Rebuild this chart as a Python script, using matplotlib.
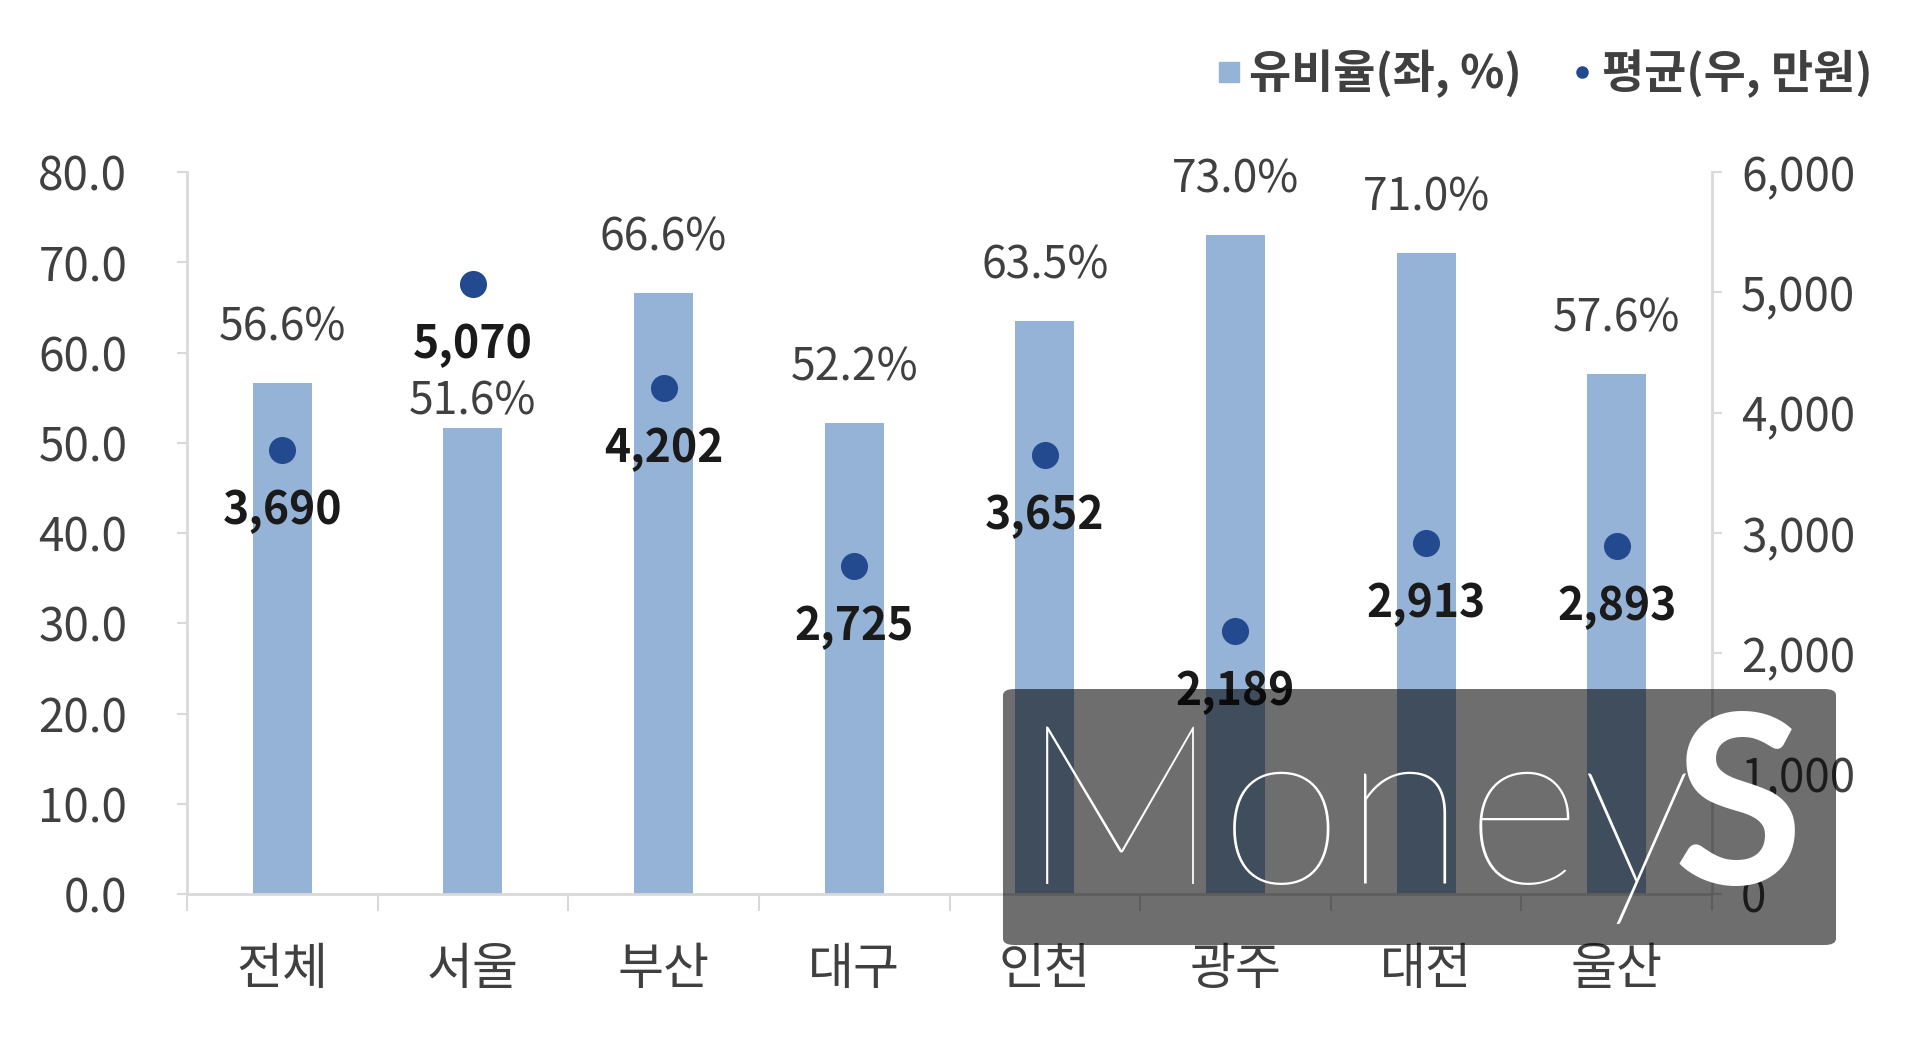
import matplotlib
matplotlib.use("Agg")
import matplotlib.pyplot as plt
from matplotlib.lines import Line2D
from matplotlib.patches import FancyBboxPatch
import numpy as np

plt.rcParams['font.family'] = ['Noto Sans CJK KR', 'DejaVu Sans']

categories = ['전체', '서울', '부산', '대구', '인천', '광주', '대전', '울산']
ratio = [56.6, 51.6, 66.6, 52.2, 63.5, 73.0, 71.0, 57.6]          # 유비율 (좌, %)
average = [3690, 5070, 4202, 2725, 3652, 2189, 2913, 2893]         # 평균 (우, 만원)
left_ticks = [0, 10, 20, 30, 40, 50, 60, 70, 80]
right_ticks = [0, 1000, 2000, 3000, 4000, 5000, 6000]
legend_labels = ['유비율(좌, %)', '평균(우, 만원)']

BAR = '#95B3D7'
DOT = '#234A8F'
AXC = '#D9D9D9'
TXT = '#404040'

W, H = 1920, 1039
fig = plt.figure(figsize=(W / 100, H / 100), dpi=100)
fig.patch.set_facecolor('white')
L, R, T, B = 187, 1712, 172, 894
ax = fig.add_axes([L / W, 1 - B / H, (R - L) / W, (B - T) / H])
ax2 = ax.twinx()

x = np.arange(len(categories))
ax.bar(x, ratio, width=0.31, color=BAR, zorder=2)
ax.set_xlim(-0.5, len(categories) - 0.5)
ax.set_ylim(0, 80)
ax2.set_ylim(0, 6000)

ax2.scatter(x, average, s=380, color=DOT, zorder=3, linewidths=0)

# spines
for a in (ax, ax2):
    for s in a.spines.values():
        s.set_visible(False)
ax.spines['left'].set_visible(True)
ax.spines['left'].set_color(AXC)
ax.spines['left'].set_linewidth(2)
ax.spines['bottom'].set_visible(True)
ax.spines['bottom'].set_color(AXC)
ax.spines['bottom'].set_linewidth(2)
ax2.spines['right'].set_visible(True)
ax2.spines['right'].set_color(AXC)
ax2.spines['right'].set_linewidth(2)

ax.set_yticks(left_ticks)
ax.set_yticklabels([f'{v:.1f}' for v in left_ticks])
ax.tick_params(axis='y', length=7, width=1.5, color=AXC, pad=36, labelsize=33, labelcolor=TXT)
ax2.set_yticks(right_ticks)
ax2.set_yticklabels([f'{v:,}' for v in right_ticks])
ax2.tick_params(axis='y', length=7, width=1.5, color=AXC, pad=14, labelsize=33, labelcolor=TXT)

ax.set_xticks(x)
ax.set_xticklabels(categories)
ax.tick_params(axis='x', length=0, pad=36, labelsize=36, labelcolor=TXT)
ax.set_xticks(np.arange(-0.5, len(categories)), minor=True)
ax.tick_params(axis='x', which='minor', length=12, width=1.5, color=AXC)

# labels
pct_offsets = [40, 19, 40, 40, 40, 40, 40, 40]
for xi, v, off in zip(x, ratio, pct_offsets):
    ax.annotate(f'{v:.1f}%', (xi, v), xytext=(0, off), textcoords='offset points',
                ha='center', va='center', fontsize=32, color=TXT, zorder=5)
for xi, v in zip(x, average):
    ax2.annotate(f'{v:,}', (xi, v), xytext=(0, -44), textcoords='offset points',
                 ha='center', va='center', fontsize=32, fontweight='bold', color='#1a1a1a', zorder=5)

# legend
handles = [Line2D([], [], marker='s', linestyle='none', markersize=14, color=BAR),
           Line2D([], [], marker='o', linestyle='none', markersize=8, color=DOT)]
fig.legend(handles, legend_labels, loc='center right', bbox_to_anchor=(0.997, 0.929),
           ncol=2, frameon=False, handletextpad=0.15, columnspacing=1.0,
           handlelength=0.6, labelcolor=TXT, prop={'weight': 'bold', 'size': 33})

# watermark overlay
box = FancyBboxPatch((1003 / W, 1 - 945 / H), (1836 - 1003) / W, (945 - 689) / H,
                     boxstyle='round,pad=0,rounding_size=0.006', transform=fig.transFigure,
                     facecolor='black', alpha=0.57, edgecolor='none', zorder=10)
fig.patches.append(box)
fig.text(1020 / W, 1 - 884 / H, 'Money', fontsize=162, color='white', family=['Lato', 'DejaVu Sans'],
         fontweight=100, ha='left', va='baseline', zorder=11)
fig.text(1803 / W, 1 - 884 / H, 'S', fontsize=170, color='white', family=['Lato', 'DejaVu Sans'],
         fontweight='bold', ha='right', va='baseline', zorder=11)

fig.savefig('out.png', dpi=100, facecolor='white')
